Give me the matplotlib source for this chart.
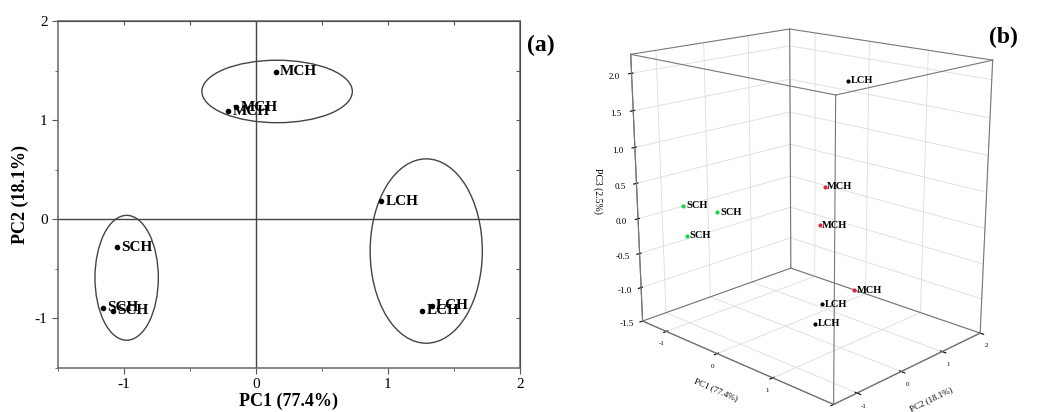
import matplotlib
matplotlib.use('Agg')
import matplotlib.pyplot as plt
from matplotlib.patches import Ellipse
from mpl_toolkits.mplot3d import proj3d
import numpy as np

plt.rcParams['font.family'] = ['Liberation Serif', 'DejaVu Serif']
plt.rcParams['axes.unicode_minus'] = False
plt.rcParams['grid.color'] = '#dcdcdc'
plt.rcParams['grid.linewidth'] = 0.6

# sample scores (same order in both panels)
groups = ['SCH', 'SCH', 'SCH', 'MCH', 'MCH', 'MCH', 'LCH', 'LCH', 'LCH']
pc1 = [-1.05, -1.16, -1.08, 0.15, -0.15, -0.21, 0.95, 1.33, 1.26]
pc2 = [-0.28, -0.89, -0.92, 1.49, 1.13, 1.09, 0.18, -0.87, -0.92]
pc3 = [-0.04, 0.15, -0.26, -1.28, 0.27, -0.30, 2.05, -0.57, -0.84]

# confidence ellipses in panel (a): centre x, centre y, width, height
ell_names = ['SCH', 'MCH', 'LCH']
ell_cx = [-0.98, 0.16, 1.29]
ell_cy = [-0.59, 1.29, -0.32]
ell_w = [0.48, 1.14, 0.85]
ell_h = [1.26, 0.63, 1.86]

colors3d = {'SCH': '#19d44a', 'MCH': '#e8203a', 'LCH': 'black'}

fig = plt.figure(figsize=(10.38, 4.12), dpi=100)

# ---- panel (a) ----
ax = fig.add_axes([0.0559, 0.1068, 0.445, 0.842])
ax.set_xlim(-1.5, 2)
ax.set_ylim(-1.5, 2)
ax.axhline(0, color='#444444', lw=1)
ax.axvline(0, color='#444444', lw=1)
for cx, cy, w, h in zip(ell_cx, ell_cy, ell_w, ell_h):
    ax.add_patch(Ellipse((cx, cy), w, h, fill=False, ec='#444444', lw=1))
ax.plot(pc1, pc2, 'o', color='black', ms=3)
for x, y, g in zip(pc1, pc2, groups):
    ax.annotate(g, (x, y), xytext=(3, 0), textcoords='offset points',
                ha='left', va='center', fontsize=11, fontweight='bold')
ax.set_xticks([-1, 0, 1, 2])
ax.set_yticks([-1, 0, 1, 2])
ax.set_xticks([-1.5, -0.5, 0.5, 1.5], minor=True)
ax.set_yticks([-1.5, -0.5, 0.5, 1.5], minor=True)
ax.tick_params(which='both', direction='out', labelsize=11, color='#555555')
ax.tick_params(which='major', length=4)
ax.tick_params(which='minor', length=2.5)
for s in ax.spines.values():
    s.set_color('#666666')
    s.set_linewidth(1.1)
top = ax.secondary_xaxis('top')
top.set_xticks([-1, -0.5, 0, 0.5, 1, 1.5])
top.tick_params(direction='in', length=3, labeltop=False, color='#555555')
right = ax.secondary_yaxis('right')
right.set_yticks([-1, -0.5, 0, 0.5, 1, 1.5])
right.tick_params(direction='in', length=3, labelright=False, color='#555555')
ax.set_xlabel('PC1 (77.4%)', fontsize=13, fontweight='bold', labelpad=1)
ax.set_ylabel('PC2 (18.1%)', fontsize=13, fontweight='bold', labelpad=4)
fig.text(0.508, 0.875, '(a)', fontsize=17, fontweight='bold')

# ---- panel (b) ----
ax3 = fig.add_axes([0.549, -0.022, 0.45, 1.06], projection='3d')
xl, yl, zl = (-1.5, 2), (-1.5, 2), (-1.5, 2.25)
ax3.set_xlim(*xl, view_margin=0)
ax3.set_ylim(*yl, view_margin=0)
ax3.set_zlim(*zl, view_margin=0)
ax3.set_proj_type('persp', focal_length=0.5)
ax3.view_init(elev=17, azim=-46)
ax3.set_box_aspect((1.24, 1, 1.28), zoom=1.0)
for a in (ax3.xaxis, ax3.yaxis, ax3.zaxis):
    a.set_pane_color((1, 1, 1, 0))
    a.line.set_color('#666666')
    a.line.set_linewidth(0.8)
ax3.zaxis.set_ticks_position('lower')
ax3.zaxis.set_label_position('lower')

# cube frame from the axis limits
for i in range(2):
    for j in range(2):
        ax3.plot(xl, [yl[i]] * 2, [zl[j]] * 2, color='#777777', lw=0.8)
        ax3.plot([xl[i]] * 2, yl, [zl[j]] * 2, color='#777777', lw=0.8)
        ax3.plot([xl[i]] * 2, [yl[j]] * 2, zl, color='#777777', lw=0.8)

for x, y, z, g in zip(pc1, pc2, pc3, groups):
    ax3.scatter([x], [y], [z], s=4, color=colors3d[g], depthshade=False)

ax3.set_xticks([-1, 0, 1, 2])
ax3.set_yticks([-1, 0, 1, 2])
ax3.set_zticks(np.arange(-1.5, 2.01, 0.5))
ax3.set_zticklabels(['-1.5', '-1.0', '-0.5', '0.0', '0.5', '1.0', '1.5', '2.0'])
ax3.tick_params(axis='x', labelsize=5, pad=-3)
ax3.tick_params(axis='y', labelsize=5, pad=-3)
ax3.tick_params(axis='z', labelsize=6.5, pad=0)
ax3.set_xlabel('PC1 (77.4%)', fontsize=6.5, labelpad=-6)
ax3.set_ylabel('PC2 (18.1%)', fontsize=6.5, labelpad=-6)
ax3.zaxis.set_rotate_label(False)
ax3.set_zlabel('PC3 (2.5%)', fontsize=7, rotation=-90, labelpad=-2)
fig.text(0.953, 0.895, '(b)', fontsize=17, fontweight='bold')

# point labels placed on the projected positions
fig.canvas.draw()
for x, y, z, g in zip(pc1, pc2, pc3, groups):
    px, py, _ = proj3d.proj_transform(x, y, z, ax3.get_proj())
    ax3.annotate(g, (px, py), xytext=(2, 0), textcoords='offset points',
                 ha='left', va='center', fontsize=7.5, fontweight='bold')

fig.savefig('out.png', dpi=100)
